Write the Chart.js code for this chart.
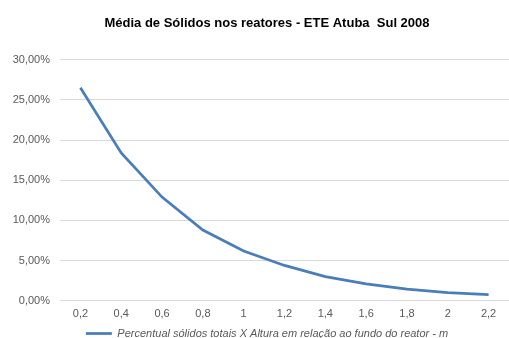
<!DOCTYPE html>
<html lang="pt">
<head>
  <meta charset="UTF-8">
  <title>Média de Sólidos nos reatores</title>
  <script src="https://cdn.jsdelivr.net/npm/chart.js"></script>
  <style>
    html, body { margin: 0; padding: 0; background: #fff; }
  </style>
</head>
<body>
  <canvas id="solidosChart" width="509" height="338"></canvas>
  <script>
    // Altura em relação ao fundo do reator (m)
    const alturas = ['0,2', '0,4', '0,6', '0,8', '1', '1,2', '1,4', '1,6', '1,8', '2', '2,2'];
    // Percentual de sólidos totais (fração)
    const solidosTotais = [0.265, 0.184, 0.129, 0.088, 0.062, 0.044, 0.030, 0.021, 0.0145, 0.0103, 0.0078];

    const ctx = document.getElementById('solidosChart').getContext('2d');

    function formatPct(v) {
      return (v * 100).toFixed(2).replace('.', ',') + '%';
    }

    // título e legenda centralizados sobre a área do gráfico, não sobre o canvas
    const centrarCaixas = {
      id: 'centrarCaixas',
      afterLayout(chart) {
        [chart.titleBlock, chart.legend].forEach(b => {
          b.left += 6;
          b.right += 6;
        });
      }
    };

    new Chart(ctx, {
      type: 'line',
      data: {
        labels: alturas,
        datasets: [{
          label: 'Percentual sólidos totais X Altura em relação ao fundo do reator - m',
          data: solidosTotais,
          borderColor: '#4a7ebb',
          backgroundColor: '#4a7ebb',
          borderWidth: 2.75,
          pointRadius: 0,
          pointStyle: 'line',
          tension: 0
        }]
      },
      plugins: [centrarCaixas],
      options: {
        responsive: false,
        animation: false,
        layout: { padding: { left: 10, right: -3, top: 16, bottom: -11 } },
        plugins: {
          title: {
            display: true,
            text: 'Média de Sólidos nos reatores - ETE Atuba  Sul 2008',
            color: '#000',
            font: { family: 'Liberation Sans', size: 13, weight: 'bold' },
            padding: { top: 0, bottom: 28 }
          },
          legend: {
            position: 'bottom',
            labels: {
              usePointStyle: true,
              pointStyleWidth: 26,
              color: '#595959',
              font: { family: 'Liberation Sans', size: 11, style: 'italic' },
              padding: 0
            }
          },
          tooltip: { enabled: false }
        },
        scales: {
          x: {
            offset: true,
            grid: { display: false, drawTicks: false },
            border: { display: false },
            ticks: {
              color: '#595959',
              font: { family: 'Liberation Sans', size: 11 },
              padding: 7,
              maxRotation: 0
            }
          },
          y: {
            min: 0,
            max: 0.30,
            afterFit: scale => { scale.width = 50; },
            grid: { color: '#d9d9d9', drawTicks: false },
            border: { display: false },
            ticks: {
              stepSize: 0.05,
              color: '#595959',
              font: { family: 'Liberation Sans', size: 11 },
              padding: 10,
              callback: v => formatPct(v)
            }
          }
        }
      }
    });
  </script>
</body>
</html>
